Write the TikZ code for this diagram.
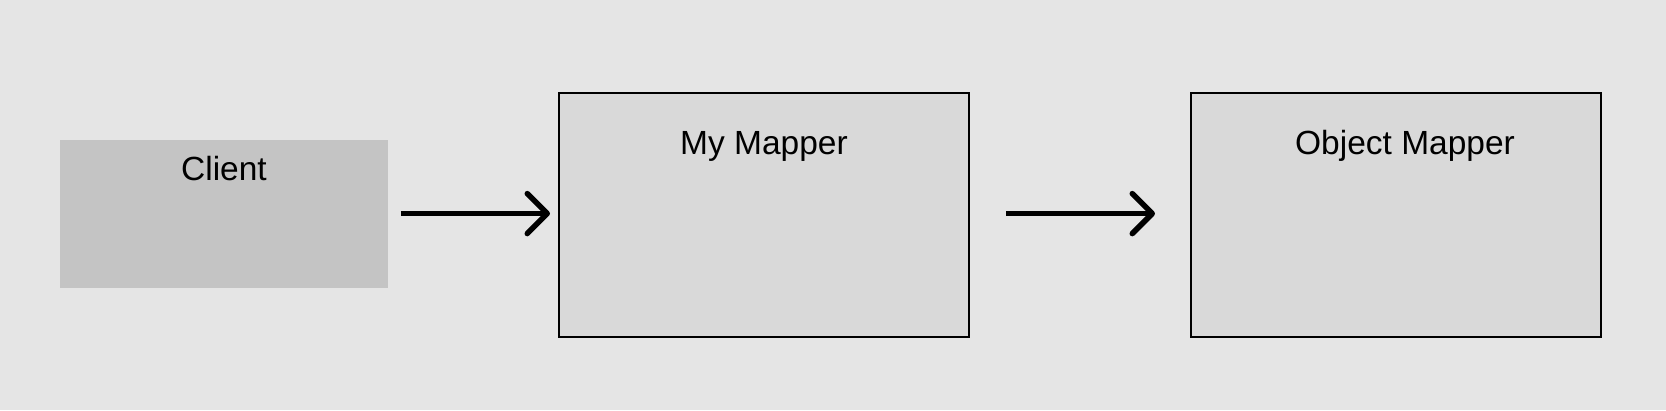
\documentclass[tikz,border=0pt]{standalone}
\usepackage{fontspec}
\setmainfont{Liberation Sans}
\usetikzlibrary{arrows.meta}
\definecolor{bg}{HTML}{E5E5E5}
\definecolor{clientfill}{HTML}{C4C4C4}
\definecolor{mapfill}{HTML}{D9D9D9}
\begin{document}
\begin{tikzpicture}[x=1pt,y=-1pt,
  clientbox/.style={rectangle,fill=clientfill,draw=none,minimum width=328pt,minimum height=148pt,inner sep=0pt},
  mapbox/.style={rectangle,fill=mapfill,draw=black,line width=2pt,minimum width=410pt,minimum height=244pt,inner sep=0pt},
  lbl/.style={anchor=base,font=\fontsize{33.5}{37}\selectfont,inner sep=0pt},
  conn/.style={line width=5.5pt,-{Straight Barb[length=20pt,width=40pt,line cap=round,line join=round]}}]
\fill[bg] (0,0) rectangle (1666,410);
\useasboundingbox (0,0) rectangle (1666,410);
\node[clientbox] (client) at (224,214) {};
\node[mapbox] (my) at (764,214.5) {};
\node[mapbox] (om) at (1396,214.5) {};
\node[lbl] (clientlbl) at (224,180) {Client};
\node[lbl] (mylbl) at (764,154) {My Mapper};
\node[lbl] (omlbl) at (1405,154) {Object Mapper};
\draw[conn,shorten <=12.6pt,shorten >=8pt] (client.east |- 0,213.6) -- (my.west |- 0,213.6);
\draw[conn,shorten <=36pt,shorten >=35pt] (my.east |- 0,213.6) -- (om.west |- 0,213.6);
\end{tikzpicture}
\end{document}
